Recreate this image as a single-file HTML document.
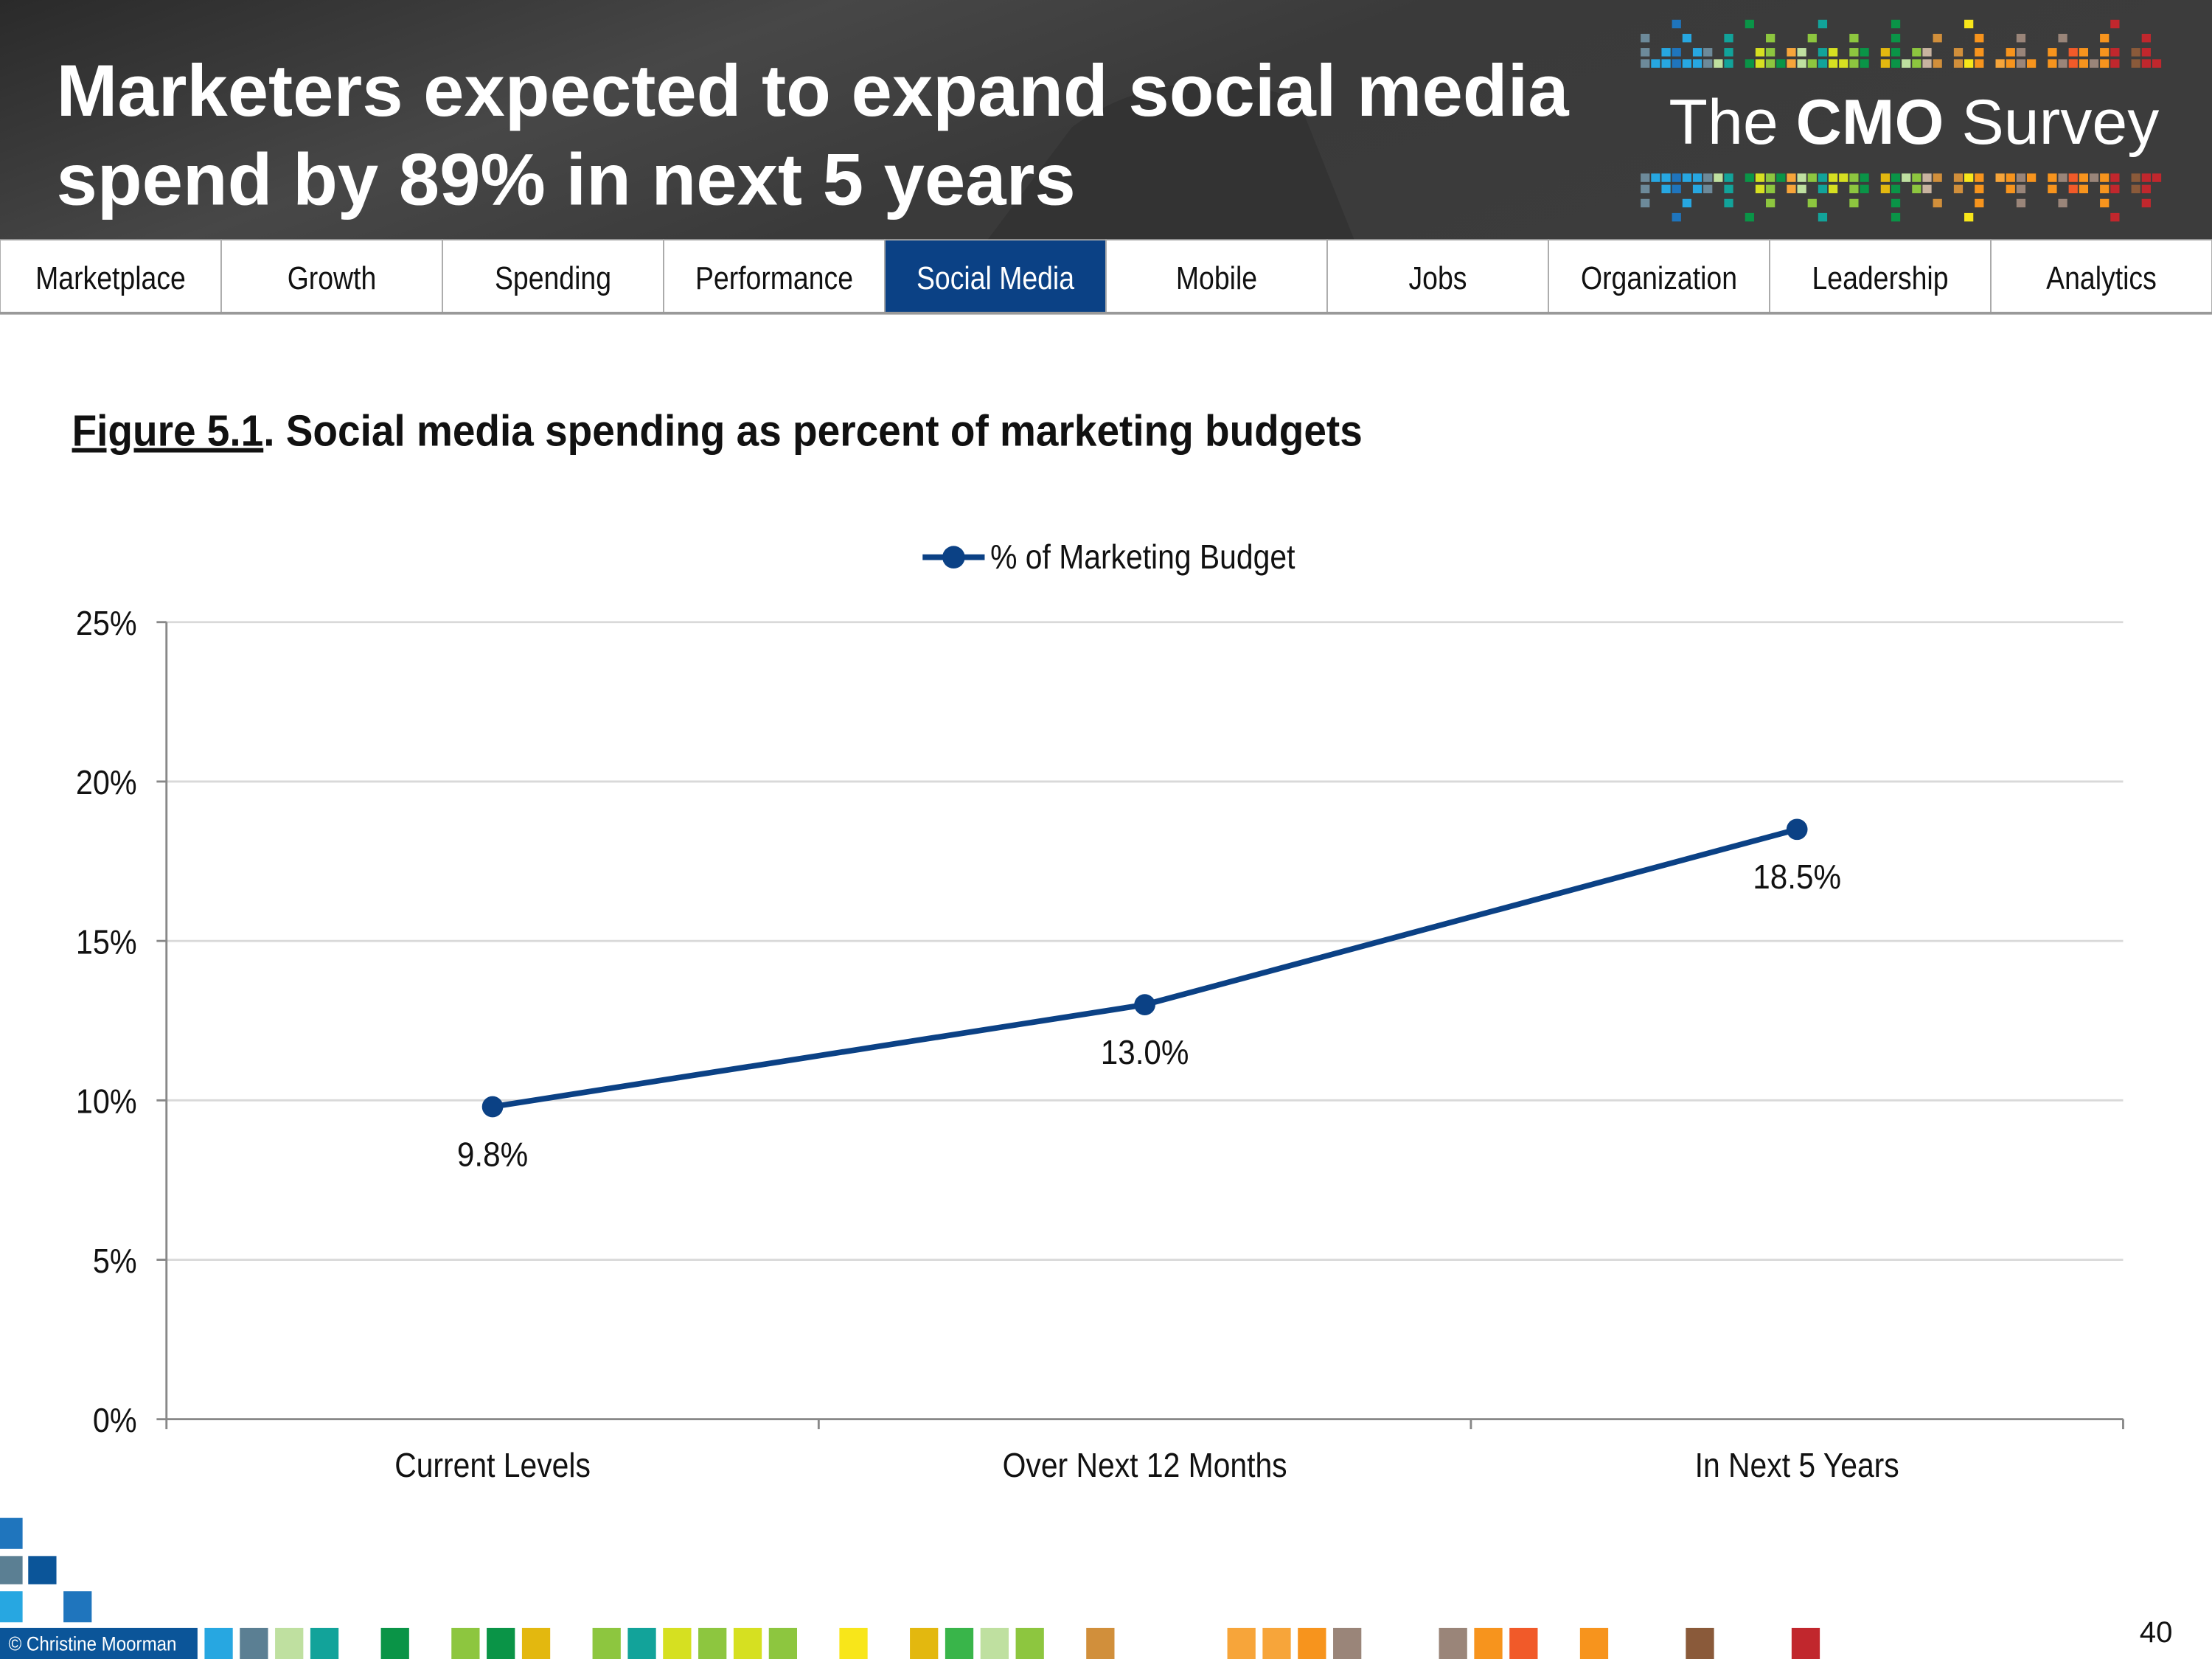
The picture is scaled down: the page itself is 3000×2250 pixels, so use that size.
<!DOCTYPE html>
<html><head><meta charset="utf-8">
<style>
html,body{margin:0;padding:0;background:#fff;}
svg{display:block;}
.n{font-family:"Liberation Sans Narrow","Liberation Sans",sans-serif;}
</style></head>
<body>
<svg id="root" width="3000" height="2250" viewBox="0 0 1568 1176" xmlns="http://www.w3.org/2000/svg">
<defs>
<linearGradient id="hg" x1="0" y1="0" x2="1" y2="0.3">
<stop offset="0" stop-color="#2a2a2a"/><stop offset="0.35" stop-color="#474747"/><stop offset="0.6" stop-color="#3a3a3a"/><stop offset="1" stop-color="#3c3c3c"/>
</linearGradient>
</defs>
<g>
<rect x="0" y="0" width="1568" height="170" fill="url(#hg)"/>
<path d="M700 170 L760 90 Q830 40 920 70 L960 170 Z" fill="#2e2e2e" opacity="0.6"/>
<text x="40" y="82" fill="#fff" font-family="Liberation Sans, sans-serif" font-weight="bold" font-size="52">Marketers expected to expand social media</text>
<text x="40" y="145" fill="#fff" font-family="Liberation Sans, sans-serif" font-weight="bold" font-size="52">spend by 89% in next 5 years</text>
<g id="logo-pixels"></g>
<text x="1183" y="102" fill="#fff" font-family="Liberation Sans, sans-serif" font-size="45"><tspan font-weight="100">The </tspan><tspan font-weight="bold">CMO</tspan><tspan> Survey</tspan></text>
</g>
<g id="nav"></g>
<text x="51" y="316" transform="translate(51,0) scale(0.927,1) translate(-51,0)" font-family="Liberation Sans, sans-serif" font-weight="bold" font-size="31" fill="#111"><tspan text-decoration="underline">Figure 5.1</tspan>.  Social media spending as percent of marketing budgets</text>
<g>
<line x1="654" y1="395" x2="698" y2="395" stroke="#0b4185" stroke-width="4"/>
<circle cx="676" cy="395" r="8" fill="#0b4185"/>
<text x="702" y="403" transform="translate(702,0) scale(0.89,1) translate(-702,0)" class="n" font-size="24" fill="#111">% of Marketing Budget</text>
</g>
<g id="chart"></g>
<g id="footer">
<rect x="0" y="1076" width="16" height="22" fill="#1f75bd"/>
<rect x="0" y="1103" width="16" height="20" fill="#5b7f93"/>
<rect x="20" y="1103" width="20" height="20" fill="#0b5599"/>
<rect x="0" y="1128" width="16" height="22" fill="#27a7e1"/>
<rect x="45" y="1128" width="20" height="22" fill="#1f75bd"/>
<rect x="0" y="1154" width="140" height="22" fill="#0b5599"/>
<text x="6" y="1170" transform="translate(6,0) scale(0.9,1) translate(-6,0)" fill="#fff" class="n" font-size="14">© Christine Moorman</text>
<text x="1540" y="1164" text-anchor="end" class="n" font-size="21" fill="#111">40</text>
</g>
</svg>
<script>
const NS="http://www.w3.org/2000/svg";
function mk(tag,attrs,parent){const e=document.createElementNS(NS,tag);for(const k in attrs)e.setAttribute(k,attrs[k]);parent.appendChild(e);return e;}
function sx(el,x,s){el.setAttribute('transform','translate('+x+',0) scale('+s+',1) translate('+(-x)+',0)');}
const tabs=["Marketplace","Growth","Spending","Performance","Social Media","Mobile","Jobs","Organization","Leadership","Analytics"];
const nav=document.getElementById('nav');
const tw=1568/10;
tabs.forEach((t,i)=>{
  const active=t==="Social Media";
  const r=mk('rect',{x:i*tw,y:170,width:tw,height:52,fill:active?'#0b4185':'#fff',stroke:'#aaa','stroke-width':1},nav);
  
  
  const tx=mk('text',{x:i*tw+tw/2,y:205,'text-anchor':'middle','font-size':23,fill:active?'#fff':'#111',class:'n'},nav);
  sx(tx,i*tw+tw/2,0.85);
  tx.textContent=t;
  
  
});
mk('line',{x1:0,y1:222,x2:1568,y2:222,stroke:'#999','stroke-width':2},nav);
const lp=document.getElementById('logo-pixels');
const pcols=["#6d8a9a","#27a7e1","#27a7e1","#1f75bd","#27a7e1","#27a7e1","#6d8a9a","#bfe0a0","#12a39a","#3a3a3a","#0a9447","#d6e021","#8dc63f","#0a9447","#f7a53a","#bfe0a0","#8dc63f","#12a39a","#d6e021","#d6e021","#8dc63f","#0a9447","#3a3a3a","#e3b80f","#0a9447","#bfe0a0","#8dc63f","#c8b3a0","#d18f3b","#3a3a3a","#d18f3b","#f8e61a","#f7941d","#3a3a3a","#f7a53a","#f7941d","#9a8579","#f7941d","#3a3a3a","#f7941d","#9a8579","#f15a29","#f7941d","#9a8579","#f7941d","#c1272d","#3a3a3a","#8a5a3a","#c1272d","#c1272d"];
pcols.forEach((c,i)=>{
  if(c==="#3a3a3a")return;
  const x=1163+i*7.4;
  mk('rect',{x:x,y:42,width:6.4,height:6,fill:c},lp);
  mk('rect',{x:x,y:123,width:6.4,height:6,fill:c},lp);
  if(i%3!==1){mk('rect',{x:x,y:34,width:6.4,height:6,fill:c},lp);mk('rect',{x:x,y:131,width:6.4,height:6,fill:c},lp);}
  if(i%4===0){mk('rect',{x:x,y:24,width:6.4,height:6,fill:c},lp);mk('rect',{x:x,y:141,width:6.4,height:6,fill:c},lp);}
  if(i%7===3){mk('rect',{x:x,y:14,width:6.4,height:6,fill:c},lp);mk('rect',{x:x,y:151,width:6.4,height:6,fill:c},lp);}
});
const fx=[145,170,195,220,270,320,345,370,420,445,470,495,520,545,595,645,670,695,720,770,870,895,920,945,1020,1045,1070,1120,1195,1270];
const fc=["#27a7e1","#5b7f93","#bfe0a0","#12a39a","#0a9447","#8dc63f","#0a9447","#e3b80f","#8dc63f","#12a39a","#d6e021","#8dc63f","#d6e021","#8dc63f","#f8e61a","#e3b80f","#39b54a","#bfe0a0","#8dc63f","#d18f3b","#f7a53a","#f7a53a","#f7941d","#9a8579","#9a8579","#f7941d","#f15a29","#f7941d","#8a5a3a","#c1272d"];
const ft=document.getElementById('footer');
fx.forEach((x,i)=>{const r=mk('rect',{x:x,y:1154,width:20,height:22,fill:fc[i]},ft);
  
  });
</script>
<script>
const categories=["Current Levels","Over Next 12 Months","In Next 5 Years"];
const values=[9.8,13.0,18.5];
const valueLabels=["9.8%","13.0%","18.5%"];
const yTicks=[0,5,10,15,20,25];
const yTickLabels=["0%","5%","10%","15%","20%","25%"];
(function(){
const g=document.getElementById('chart');
const L=118,R=1505,T=441,B=1006,yMax=25;
const y=v=>B-(v/yMax)*(B-T);
const bw=(R-L)/categories.length;
const x=i=>L+bw*(i+0.5);
yTicks.forEach((t,i)=>{
  if(t>0){const gl=mk('line',{x1:L,y1:y(t),x2:R,y2:y(t),stroke:'#d9d9d9','stroke-width':1.5},g);
  
  }
  mk('line',{x1:L-7,y1:y(t),x2:L,y2:y(t),stroke:'#888','stroke-width':1.5},g);
  const tx=mk('text',{x:97,y:y(t)+9,'text-anchor':'end','font-size':24,fill:'#111',class:'n'},g);
  sx(tx,97,0.9);
  tx.textContent=yTickLabels[i];
  
  
});
mk('line',{x1:L,y1:T,x2:L,y2:B,stroke:'#888','stroke-width':1.5},g);
mk('line',{x1:L,y1:B,x2:R,y2:B,stroke:'#888','stroke-width':1.5},g);
for(let i=0;i<=categories.length;i++)mk('line',{x1:L+bw*i,y1:B,x2:L+bw*i,y2:B+7,stroke:'#888','stroke-width':1.5},g);
categories.forEach((c,i)=>{
  const tx=mk('text',{x:x(i),y:1047,'text-anchor':'middle','font-size':24,fill:'#111',class:'n'},g);
  sx(tx,x(i),0.89);
  tx.textContent=c;
  
  
});
const pts=values.map((v,i)=>x(i)+','+y(v)).join(' ');
const pl=mk('polyline',{points:pts,fill:'none',stroke:'#0b4185','stroke-width':4,'stroke-linejoin':'round'},g);


values.forEach((v,i)=>{
  const c=mk('circle',{cx:x(i),cy:y(v),r:7.5,fill:'#0b4185'},g);
  
  
  const t=mk('text',{x:x(i),y:y(v)+42,'text-anchor':'middle','font-size':24,fill:'#111',class:'n'},g);
  sx(t,x(i),0.92);
  t.textContent=valueLabels[i];
  
  
});
})();
</script>
</body></html>
